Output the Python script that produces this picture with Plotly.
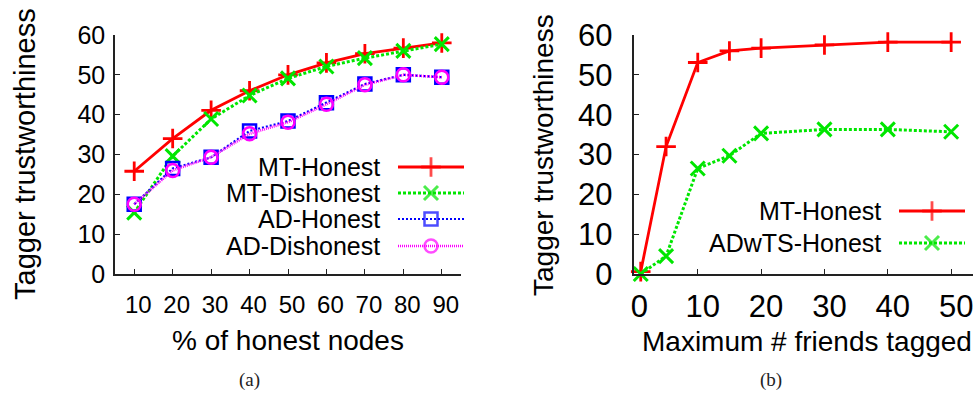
import plotly.graph_objects as go

W, H = 976, 394

# ---------------- data ----------------
pct_honest = [10, 20, 30, 40, 50, 60, 70, 80, 90]
mt_honest_a = [25.8, 34.0, 41.1, 46.0, 50.0, 53.0, 55.3, 56.7, 58.0]
mt_dishonest_a = [15.4, 29.6, 38.9, 44.8, 49.1, 52.1, 54.2, 56.0, 57.7]
ad_honest_a = [17.5, 26.5, 29.3, 35.9, 38.4, 43.0, 47.7, 50.0, 49.4]
ad_dishonest_a = [17.5, 26.0, 29.3, 35.2, 38.1, 42.6, 47.5, 50.0, 49.4]

max_friends = [1, 5, 10, 15, 20, 30, 40, 50]
mt_honest_b = [0.6, 32.0, 53.1, 56.0, 56.7, 57.5, 58.2, 58.2]
adwts_honest_b = [0.0, 4.5, 26.5, 29.7, 35.3, 36.3, 36.3, 35.7]

yticks = [0, 10, 20, 30, 40, 50, 60]
xticks_a = [10, 20, 30, 40, 50, 60, 70, 80, 90]
xticks_b = [0, 10, 20, 30, 40, 50]

# ---------------- styles ----------------
FONT = "Liberation Sans, Arial, sans-serif"
RED, GREEN, BLUE, MAGENTA = "#ff0000", "#00e600", "#0000ff", "#ff00ff"
styles = {
    "MT-Honest": dict(line=dict(color=RED, width=2.8),
                      marker=dict(symbol="cross-thin", size=14, line=dict(color=RED, width=2.8))),
    "MT-Dishonest": dict(line=dict(color=GREEN, width=3, dash="3px,2px"),
                         marker=dict(symbol="x-thin", size=14, line=dict(color=GREEN, width=3))),
    "AD-Honest": dict(line=dict(color=BLUE, width=2.2, dash="2px,2px"),
                      marker=dict(symbol="square-open", size=13, color=BLUE, line=dict(color=BLUE, width=2.5))),
    "AD-Dishonest": dict(line=dict(color=MAGENTA, width=2.6, dash="1px,1px"),
                         marker=dict(symbol="circle-open", size=13, color=MAGENTA, line=dict(color=MAGENTA, width=2.5))),
    "ADwTS-Honest": dict(line=dict(color=GREEN, width=3, dash="3px,2px"),
                         marker=dict(symbol="x-thin", size=14, line=dict(color=GREEN, width=3))),
}

def px_x(x):
    return x / W

def px_y(y):
    return 1 - y / H

fig = go.Figure()

series_a = [("MT-Honest", mt_honest_a), ("MT-Dishonest", mt_dishonest_a),
            ("AD-Honest", ad_honest_a), ("AD-Dishonest", ad_dishonest_a)]
for name, vals in series_a:
    st = styles[name]
    fig.add_trace(go.Scatter(x=pct_honest, y=vals, mode="lines+markers", name=name,
                             line=st["line"], marker=st["marker"], cliponaxis=False,
                             xaxis="x", yaxis="y", showlegend=False))

series_b = [("MT-Honest", mt_honest_b), ("ADwTS-Honest", adwts_honest_b)]
for name, vals in series_b:
    st = styles[name]
    fig.add_trace(go.Scatter(x=max_friends, y=vals, mode="lines+markers", name=name,
                             line=st["line"], marker=st["marker"], cliponaxis=False,
                             xaxis="x2", yaxis="y2", showlegend=False))

# ---------------- custom legends (text left of sample, as in gnuplot) ----------------
legend_a = dict(text_right=382, x0=398, x1=464, rows=[167, 193, 219, 246], size=25)
legend_b = dict(text_right=883, x0=899, x1=965, rows=[211, 243], size=25)

annotations = []
for leg, names in ((legend_a, [n for n, _ in series_a]), (legend_b, [n for n, _ in series_b])):
    for name, ry in zip(names, leg["rows"]):
        st = styles[name]
        xm = (leg["x0"] + leg["x1"]) / 2
        msize = st["marker"]["size"]
        fig.add_trace(go.Scatter(x=[leg["x0"], xm, leg["x1"]], y=[ry, ry, ry], mode="lines+markers",
                                 line=st["line"], marker={**st["marker"], "size": [0, msize, 0]},
                                 xaxis="x3", yaxis="y3", showlegend=False, hoverinfo="skip",
                                 cliponaxis=False))
        annotations.append(dict(x=px_x(leg["text_right"]), y=px_y(ry), xref="paper", yref="paper",
                                text=name, showarrow=False, xanchor="right", yanchor="middle",
                                font=dict(family=FONT, size=leg["size"], color="#000")))

# axis titles
titles = [
    ("Tagger trustworthiness", 25, 154, -90, 29),
    ("% of honest nodes", 288, 340, 0, 28),
    ("Tagger trustworthiness", 543, 155, -90, 28),
    ("Maximum # friends tagged", 807, 341, 0, 28),
]
for txt, x, y, ang, sz in titles:
    annotations.append(dict(x=px_x(x), y=px_y(y), xref="paper", yref="paper", text=txt,
                            showarrow=False, xanchor="center", yanchor="middle", textangle=ang,
                            font=dict(family=FONT, size=sz, color="#000")))

for txt, x in (("(a)", 250), ("(b)", 771)):
    annotations.append(dict(x=px_x(x), y=px_y(380), xref="paper", yref="paper", text=txt,
                            showarrow=False, xanchor="center", yanchor="middle",
                            font=dict(family="Liberation Serif, serif", size=19, color="#222")))

axis_common = dict(showline=True, linecolor="#222", linewidth=1.5, mirror=False, showgrid=False,
                   zeroline=False, ticks="inside", ticklen=5, tickcolor="#222", tickwidth=1.2,
                   automargin=False)

ydom = [px_y(274), px_y(35)]
fig.update_layout(
    template="none",
    width=W, height=H, margin=dict(l=0, r=0, t=0, b=0, pad=0), autosize=False,
    paper_bgcolor="white", plot_bgcolor="rgba(0,0,0,0)", showlegend=False,
    xaxis=dict(domain=[px_x(115), px_x(461)], range=[5, 95], tickvals=xticks_a,
               tickfont=dict(family=FONT, size=24, color="#000"), ticklabelstandoff=8,
               ticklabelshift=4, anchor="y", **axis_common),
    yaxis=dict(domain=ydom, range=[0, 60], tickvals=yticks,
               tickfont=dict(family=FONT, size=25, color="#000"), ticklabelstandoff=3,
               anchor="x", **axis_common),
    xaxis2=dict(domain=[px_x(634.4), px_x(972.7)], range=[0, 53.4], tickvals=xticks_b,
                tickfont=dict(family=FONT, size=31, color="#000"), ticklabelstandoff=4,
                ticklabelshift=5, anchor="y2", **axis_common),
    yaxis2=dict(domain=ydom, range=[0, 60], tickvals=yticks,
                tickfont=dict(family=FONT, size=31, color="#000"), ticklabelstandoff=14,
                anchor="x2", **axis_common),
    xaxis3=dict(domain=[0, 1], range=[0, W], visible=False, fixedrange=True, anchor="y3",
                automargin=False),
    yaxis3=dict(domain=[0, 1], range=[H, 0], visible=False, fixedrange=True, anchor="x3",
                automargin=False),
    annotations=annotations,
)

fig.write_html("out.html")
